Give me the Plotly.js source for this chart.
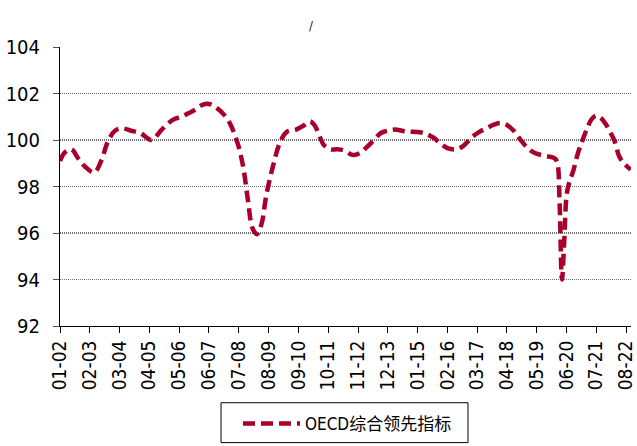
<!DOCTYPE html>
<html>
<head>
<meta charset="utf-8">
<script src="https://cdn.plot.ly/plotly-3.0.1.min.js"></script>
<style>html,body{margin:0;padding:0;background:#fff;}#chart{width:637px;height:446px;}</style>
</head>
<body>
<div id="chart"></div>
<script>
const months = ['2002-01','2002-03','2002-06','2002-09','2002-12','2003-04','2003-07','2003-10','2004-01','2004-04','2004-08','2004-12','2005-05','2005-09','2005-12','2006-03','2006-06','2006-09','2006-12','2007-03','2007-06','2007-09','2007-12','2008-03','2008-05','2008-07','2008-09','2008-11','2009-01','2009-03','2009-05','2009-07','2009-10','2010-01','2010-04','2010-08','2010-11','2011-02','2011-04','2011-06','2011-08','2011-11','2012-02','2012-05','2012-09','2012-12','2013-03','2013-06','2013-09','2013-12','2014-03','2014-08','2015-02','2015-05','2015-08','2015-11','2016-02','2016-06','2016-09','2017-01','2017-04','2017-07','2017-10','2018-01','2018-04','2018-07','2018-10','2019-01','2019-04','2019-08','2019-12','2020-01','2020-02','2020-03','2020-04','2020-05','2020-06','2020-07','2020-09','2020-11','2021-01','2021-03','2021-05','2021-07','2021-09','2021-11','2022-01','2022-03','2022-05','2022-07','2022-10'];
const cliValues = [99.1,99.45,99.6,99.2,98.85,98.6,99.1,99.95,100.4,100.5,100.4,100.3,100.0,100.4,100.7,100.9,101.0,101.15,101.3,101.5,101.55,101.4,101.15,100.75,100.3,99.7,98.8,97.4,96.2,95.95,96.4,97.6,98.9,99.9,100.35,100.45,100.6,100.8,100.65,100.25,99.8,99.6,99.6,99.55,99.35,99.45,99.7,100.0,100.3,100.4,100.45,100.37,100.33,100.25,100.1,99.85,99.65,99.6,99.75,100.15,100.35,100.5,100.65,100.73,100.65,100.4,100.0,99.66,99.45,99.33,99.25,99.2,99.0,97.3,94.0,95.6,97.6,98.1,98.7,99.45,100.0,100.5,100.9,101.05,100.95,100.7,100.35,99.95,99.3,99.0,98.73];
const tickLabels = ['01-02','02-03','03-04','04-05','05-06','06-07','07-08','08-09','09-10','10-11','11-12','12-13','01-15','02-16','03-17','04-18','05-19','06-20','07-21','08-22'];
const seriesName = 'OECD综合领先指标';
const titleText = '/';

const tickVals = tickLabels.map(l => '20' + l.slice(3) + '-' + l.slice(0,2) + '-01');
const narrow = '"Liberation Sans Narrow", "Arial Narrow", "DejaVu Sans Condensed", "Noto Sans CJK SC", sans-serif';

const trace = {
  x: months.map(m => m + '-01'),
  y: cliValues,
  type: 'scatter',
  mode: 'lines',
  name: seriesName,
  line: {color: '#A8002A', width: 4.5, dash: '12px,6px', shape: 'spline', smoothing: 1}
};

const layout = {
  width: 637, height: 446,
  margin: {l: 60, r: 6, t: 47, b: 119},
  paper_bgcolor: '#fff', plot_bgcolor: '#fff',
  showlegend: true,
  title: {text: titleText, x: 0.488, xanchor: 'center', y: 0.944, yanchor: 'middle',
          font: {family: narrow, size: 13, color: '#222'}},
  xaxis: {
    type: 'date',
    range: ['2002-01-01', '2022-10-05'],
    tickmode: 'array', tickvals: tickVals, ticktext: tickLabels,
    tickangle: -90,
    ticks: 'outside', ticklen: 6, tickcolor: '#000', tickwidth: 1,
    showline: true, linecolor: '#000', linewidth: 1,
    showgrid: false, zeroline: false,
    tickfont: {family: narrow, size: 19, color: '#000'},
    fixedrange: true
  },
  yaxis: {
    range: [92, 104],
    tickvals: [92, 94, 96, 98, 100, 102, 104],
    ticks: 'outside', ticklen: 6, tickcolor: '#555', tickwidth: 1,
    showline: true, linecolor: '#000', linewidth: 1,
    showgrid: true, gridcolor: '#6e6e6e', gridwidth: 1.3, griddash: '1px,1px',
    zeroline: false,
    ticklabelstandoff: 9,
    tickfont: {family: narrow, size: 20, color: '#000'},
    fixedrange: true
  },
  legend: {
    orientation: 'h', x: 0.3117, xanchor: 'left', y: -0.3464, yanchor: 'middle',
    borderwidth: 0, bgcolor: 'rgba(0,0,0,0)',
    font: {family: narrow, size: 17, color: '#000'},
    itemwidth: 57
  },
  shapes: [{
    type: 'rect', xref: 'paper', yref: 'paper',
    x0: 0.282, x1: 0.7145, y0: -0.275, y1: -0.418,
    line: {color: '#000', width: 1}, fillcolor: 'rgba(0,0,0,0)', layer: 'below'
  }]
};

Plotly.newPlot('chart', [trace], layout, {displayModeBar: false, staticPlot: true});
</script>
</body>
</html>
